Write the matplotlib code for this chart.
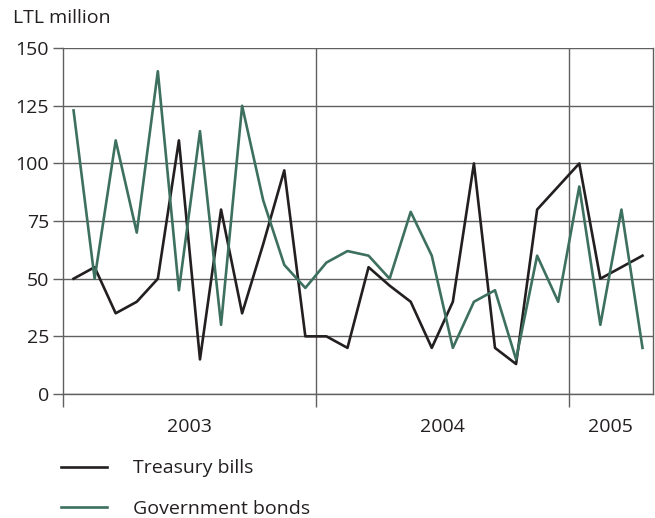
import numpy as np
import matplotlib
matplotlib.use('Agg')
import matplotlib.pyplot as plt

plt.rcParams['font.family'] = ['Open Sans', 'DejaVu Sans']

# monthly data, Jan 2003 - Apr 2005 (LTL million)
years = ['2003', '2004', '2005']
months_per_year = [12, 12, 4]
treasury_bills = [50, 55, 35, 40, 50, 110, 15, 80, 35, 65, 97, 25,
                  25, 20, 55, 47, 40, 20, 40, 100, 20, 13, 80, 90,
                  100, 50, 55, 60]
government_bonds = [123, 50, 110, 70, 140, 45, 114, 30, 125, 84, 56, 46,
                    57, 62, 60, 50, 79, 60, 20, 40, 45, 15, 60, 40,
                    90, 30, 80, 20]

BLACK = '#231f20'
GREEN = '#3d705f'
GRID = '#606060'

fig = plt.figure(figsize=(6.55, 5.18), dpi=100)
ax = fig.add_axes([0.0962, 0.2394, 0.9008, 0.6676])

x = np.arange(len(treasury_bills))
l1, = ax.plot(x, treasury_bills, color=BLACK, lw=1.9, label='Treasury bills', zorder=3)
l2, = ax.plot(x, government_bonds, color=GREEN, lw=1.9, label='Government bonds', zorder=3)

ax.set_ylim(0, 150)
ax.set_xlim(-0.5, len(x) - 0.5)
ax.set_yticks(np.arange(0, 151, 25))
ax.yaxis.grid(True, color=GRID, lw=1.0)
ax.set_axisbelow(True)

# year boundaries
bounds = np.cumsum(months_per_year)[:-1] - 0.5
for b in bounds:
    ax.axvline(b, color=GRID, lw=1.0, zorder=1)
ax.set_xticks(np.concatenate([[-0.5], bounds]))
ax.set_xticklabels([])
ax.tick_params(axis='x', length=9, width=1.0, color=GRID, direction='out')
ax.tick_params(axis='y', length=7, width=1.0, color=GRID, direction='out',
               labelsize=14, labelcolor='#231f20', pad=3)

# year labels centred on each year
starts = np.concatenate([[0], np.cumsum(months_per_year)[:-1]]) - 0.5
for yr, s, n in zip(years, starts, months_per_year):
    ax.text(s + n / 2, -0.069, yr, transform=ax.get_xaxis_transform(),
            ha='center', va='top', fontsize=14, color='#231f20')

for side in ['left', 'right', 'bottom', 'top']:
    ax.spines[side].set_color(GRID)
    ax.spines[side].set_linewidth(1.0)
ax.spines['top'].set_visible(False)

fig.text(0.02, 0.965, 'LTL million', ha='left', va='center', fontsize=14, color='#231f20')

fig.legend(handles=[l1, l2], loc='upper left', bbox_to_anchor=(0.067, 0.147),
           frameon=False, fontsize=14, handlelength=2.35, handletextpad=1.35,
           labelspacing=1.16, labelcolor='#231f20')

fig.savefig('out.png', dpi=100)
